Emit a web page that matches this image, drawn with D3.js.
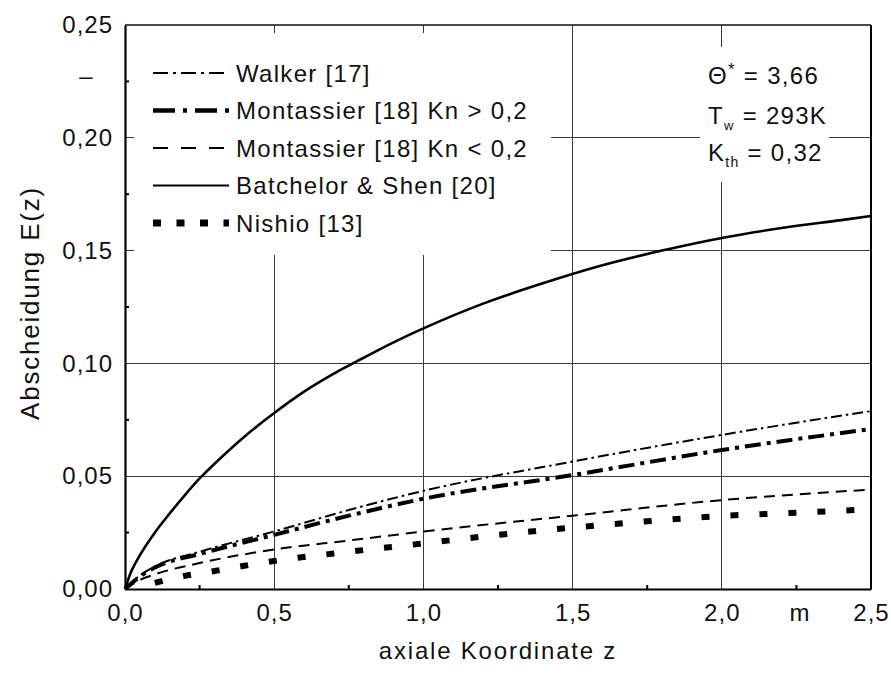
<!DOCTYPE html>
<html>
<head>
<meta charset="utf-8">
<script src="https://cdn.jsdelivr.net/npm/d3@7/dist/d3.min.js"></script>
<style>
  html, body { margin: 0; padding: 0; background: #fff; }
  svg text { font-family: "Liberation Sans", Arial, sans-serif; fill: #111; }
</style>
</head>
<body>
<svg id="chart" width="891" height="675"></svg>
<script>
// Axial coordinate z in m (x) and deposition E(z) (y)
const xTicks = [0, 0.5, 1.0, 1.5, 2.0, 2.5];
const yTicks = [0, 0.05, 0.10, 0.15, 0.20, 0.25];

const walkerZ = [0, 0.05, 0.1, 0.25, 0.5, 0.75, 1.0, 1.5, 2.0, 2.5];
const walkerE = [0, 0.006, 0.010, 0.0165, 0.0255, 0.035, 0.0435, 0.0565, 0.0683, 0.0789];

const montHighZ = [0, 0.05, 0.1, 0.25, 0.5, 0.75, 1.0, 1.5, 2.0, 2.5];
const montHighE = [0, 0.0055, 0.0095, 0.0155, 0.024, 0.0325, 0.040, 0.0505, 0.0616, 0.0709];

const montLowZ = [0, 0.05, 0.1, 0.25, 0.5, 0.75, 1.0, 1.5, 2.0, 2.48];
const montLowE = [0, 0.004, 0.0065, 0.0115, 0.0175, 0.0215, 0.0255, 0.0325, 0.0394, 0.0439];

const batchelorZ = [0, 0.02, 0.05, 0.1, 0.15, 0.2, 0.25, 0.3, 0.4, 0.5, 0.6, 0.7, 0.8, 0.9, 1.0, 1.2, 1.4, 1.6, 1.8, 2.0, 2.2, 2.4, 2.5];
const batchelorE = [0, 0.0075, 0.015, 0.025, 0.0335, 0.0415, 0.049, 0.0555, 0.0675, 0.078, 0.0875, 0.0955, 0.1025, 0.1093, 0.1155, 0.1265, 0.1355, 0.1435, 0.1500, 0.1556, 0.1600, 0.1635, 0.1653];

const nishioZ = [0.1, 0.2, 0.3, 0.4, 0.5, 0.75, 1.0, 1.25, 1.5, 1.75, 2.0, 2.25, 2.45];
const nishioE = [0.0027, 0.0058, 0.008, 0.0103, 0.0124, 0.0165, 0.0202, 0.024, 0.0272, 0.030, 0.0324, 0.0338, 0.035];

const seriesNames = ["Walker [17]", "Montassier [18] Kn > 0,2", "Montassier [18] Kn < 0,2", "Batchelor & Shen [20]", "Nishio [13]"];

const series = [
  { name: seriesNames[0], z: walkerZ, e: walkerE, width: 2, dash: "11,4,2.5,4", legendDash: "15,5,3,5", legendWidth: 2 },
  { name: seriesNames[1], z: montHighZ, e: montHighE, width: 4, dash: "16,6,4,6", legendDash: "22,8,4,8", legendWidth: 4.5 },
  { name: seriesNames[2], z: montLowZ, e: montLowE, width: 2, dash: "11,7", legendDash: "15,13", legendWidth: 2 },
  { name: seriesNames[3], z: batchelorZ, e: batchelorE, width: 2.6, dash: null, legendDash: null, legendWidth: 2.2 },
  { name: seriesNames[4], z: nishioZ, e: nishioE, width: 6, dash: "8,21", legendDash: "8,15.5", legendWidth: 7 }
];

const comma = f => v => f(v).replace(".", ",");

const svg = d3.select("#chart");
const L = 125, R = 871, T = 25, B = 589;
const x = d3.scaleLinear().domain([0, 2.5]).range([L, R]);
const y = d3.scaleLinear().domain([0, 0.25]).range([B, T]);

// grid
const grid = svg.append("g").attr("stroke", "#3a3a3a").attr("stroke-width", 1).attr("shape-rendering", "crispEdges");
grid.selectAll(".vg").data(xTicks.slice(1, -1)).join("line")
  .attr("x1", d => x(d)).attr("x2", d => x(d)).attr("y1", T).attr("y2", B);
grid.selectAll(".hg").data(yTicks.slice(1, -1)).join("line")
  .attr("x1", L).attr("x2", R).attr("y1", d => y(d)).attr("y2", d => y(d));

// minor ticks
const minorY = d3.range(0.025, 0.25, 0.05);
const minorX = d3.range(0.25, 2.5, 0.5);
svg.append("g").attr("stroke", "#000").attr("stroke-width", 2)
  .selectAll("line").data(minorY).join("line")
  .attr("x1", L).attr("x2", L + 4).attr("y1", d => y(d)).attr("y2", d => y(d));
svg.append("g").attr("stroke", "#000").attr("stroke-width", 2)
  .selectAll("line").data(minorX).join("line")
  .attr("x1", d => x(d)).attr("x2", d => x(d)).attr("y1", B).attr("y2", B - 4);

// white panels behind legend and parameter box
svg.append("rect").attr("x", 134).attr("y", 33).attr("width", 551 - 134).attr("height", 255 - 33).attr("fill", "#fff");
svg.append("rect").attr("x", 700).attr("y", 47).attr("width", 129).attr("height", 135).attr("fill", "#fff");
// short major tick at 0.20 beside the legend
svg.append("line").attr("x1", L).attr("x2", 134).attr("y1", y(0.2)).attr("y2", y(0.2))
  .attr("stroke", "#3a3a3a").attr("stroke-width", 1).attr("shape-rendering", "crispEdges");

// frame
svg.append("line").attr("x1", L).attr("x2", R).attr("y1", T).attr("y2", T).attr("stroke", "#111").attr("stroke-width", 1.5);
svg.append("line").attr("x1", R).attr("x2", R).attr("y1", T).attr("y2", B).attr("stroke", "#000").attr("stroke-width", 2);

// axes
const xAxis = d3.axisBottom(x).tickValues(xTicks).tickSize(0).tickPadding(19).tickFormat(comma(d3.format(".1f")));
const yAxis = d3.axisLeft(y).tickValues(yTicks).tickSize(0).tickPadding(12).tickFormat(comma(d3.format(".2f")));
const gx = svg.append("g").attr("transform", `translate(0,${B})`).call(xAxis);
const gy = svg.append("g").attr("transform", `translate(${L},0)`).call(yAxis);
[gx, gy].forEach(g => {
  g.select(".domain").attr("stroke", "#000").attr("stroke-width", 2.2);
  g.selectAll("text").attr("font-size", 24).attr("letter-spacing", 1)
    .attr("font-family", "Liberation Sans, Arial, sans-serif").attr("fill", "#111");
});
gx.selectAll("text").attr("dy", "0.55em");

svg.append("text").attr("x", x(2.26)).attr("y", B + 19).attr("dy", "0.55em")
  .attr("text-anchor", "middle").attr("font-size", 24).text("m");
svg.append("text").attr("x", 86).attr("y", 76).attr("dy", "0.35em")
  .attr("text-anchor", "middle").attr("font-size", 24).text("–");

// axis titles
svg.append("text").attr("x", 498).attr("y", 659).attr("text-anchor", "middle")
  .attr("font-size", 24).attr("letter-spacing", 1.8).text("axiale Koordinate z");
svg.append("text").attr("transform", `translate(39,303) rotate(-90)`)
  .attr("text-anchor", "middle").attr("font-size", 26).attr("letter-spacing", 1.8).text("Abscheidung E(z)");

// curves
const line = d3.line().x(d => x(d[0])).y(d => y(d[1])).curve(d3.curveMonotoneX);
svg.append("g").selectAll("path").data(series).join("path")
  .attr("d", s => line(s.z.map((z, i) => [z, s.e[i]])))
  .attr("fill", "none").attr("stroke", "#000")
  .attr("stroke-width", s => s.width)
  .attr("stroke-dasharray", s => s.dash)
  .attr("stroke-linecap", "butt");

// legend
const lg = svg.append("g");
const rowY = i => 73 + i * 37.5;
lg.selectAll("line").data(series).join("line")
  .attr("x1", 153).attr("x2", 229).attr("y1", (s, i) => rowY(i)).attr("y2", (s, i) => rowY(i))
  .attr("stroke", "#000").attr("stroke-width", s => s.legendWidth)
  .attr("stroke-dasharray", s => s.legendDash);
lg.selectAll("text").data(series).join("text")
  .attr("x", 236).attr("y", (s, i) => rowY(i)).attr("dy", "0.36em")
  .attr("font-size", 24).attr("letter-spacing", 1.3).text(s => s.name);

// parameter box
const pb = svg.append("g").attr("font-size", 24).attr("letter-spacing", 1.3);
const t1 = pb.append("text").attr("x", 708).attr("y", 75).attr("dy", "0.36em");
t1.append("tspan").text("Θ");
t1.append("tspan").attr("font-size", 17).attr("dy", -9).text("*");
t1.append("tspan").attr("dy", 9).text(" = 3,66");
const t2 = pb.append("text").attr("x", 708).attr("y", 115).attr("dy", "0.36em");
t2.append("tspan").text("T");
t2.append("tspan").attr("font-size", 13).attr("dy", 6).text("w");
t2.append("tspan").attr("dy", -6).text(" = 293K");
const t3 = pb.append("text").attr("x", 708).attr("y", 152).attr("dy", "0.36em");
t3.append("tspan").text("K");
t3.append("tspan").attr("font-size", 14).attr("dy", 6).text("th");
t3.append("tspan").attr("dy", -6).text(" = 0,32");
</script>
</body>
</html>
